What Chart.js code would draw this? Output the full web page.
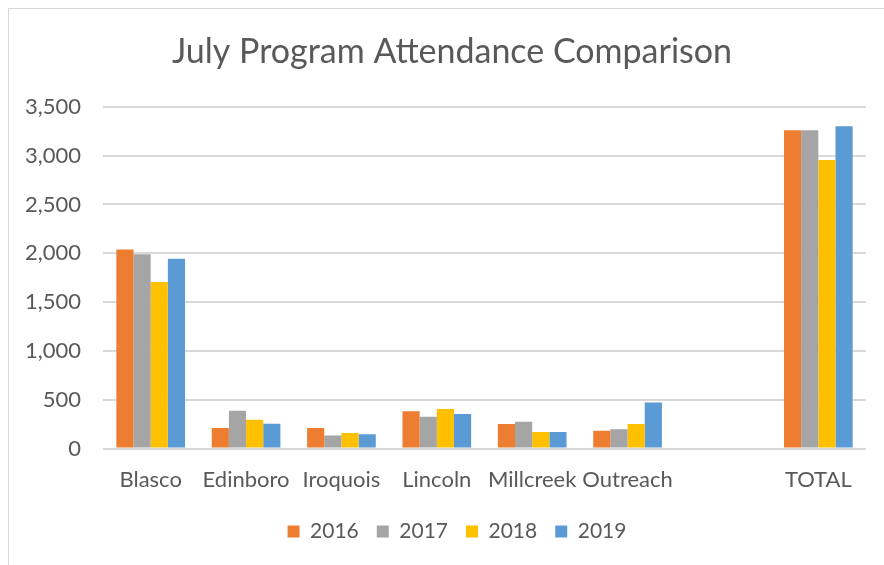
<!DOCTYPE html>
<html>
<head>
<meta charset="utf-8">
<script src="https://cdn.jsdelivr.net/npm/chart.js@4/dist/chart.umd.min.js"></script>
<style>
  html, body { margin: 0; padding: 0; background: #fff; }
  #wrap { position: relative; width: 884px; height: 565px; }
  #frame { position: absolute; left: 8px; top: 8px; right: -2px; bottom: -2px;
           border: 1px solid #d9d9d9; }
  canvas { position: absolute; left: 0; top: 0; }
</style>
</head>
<body>
<div id="wrap">
  <div id="frame"></div>
  <canvas id="attendanceChart" width="884" height="565"></canvas>
</div>
<script>
// categories (the blank one keeps the gap before TOTAL)
const sites = ['Blasco', 'Edinboro', 'Iroquois', 'Lincoln', 'Millcreek', 'Outreach', '', 'TOTAL'];

const y2016 = [2040, 210, 210, 382, 252, 184, null, 3260];
const y2017 = [1990, 388, 134, 327, 276, 197, null, 3260];
const y2018 = [1705, 296, 160, 405, 170, 252, null, 2955];
const y2019 = [1945, 254, 147, 354, 170, 473, null, 3300];

const yTicks = [0, 500, 1000, 1500, 2000, 2500, 3000, 3500];

const textColor = '#595959';
const font = 'Lato, "Noto Sans", sans-serif';

Chart.defaults.font.family = font;
Chart.defaults.color = textColor;

// the original centres title and legend a bit right of the plot, nudge them over
const nudgeBoxes = {
    id: 'nudgeBoxes',
    afterLayout(chart) {
        chart.titleBlock.left += 15;
        chart.titleBlock.right += 15;
        chart.legend.left += 20;
        chart.legend.right += 20;
    }
};

const ctx = document.getElementById('attendanceChart').getContext('2d');
new Chart(ctx, {
    type: 'bar',
    data: {
        labels: sites,
        datasets: [
            { label: '2016', data: y2016, backgroundColor: '#ED7D31' },
            { label: '2017', data: y2017, backgroundColor: '#A5A5A5' },
            { label: '2018', data: y2018, backgroundColor: '#FFC000' },
            { label: '2019', data: y2019, backgroundColor: '#5B9BD5' }
        ]
    },
    options: {
        responsive: false,
        animation: false,
        layout: { padding: { left: 8, right: 18, top: 18, bottom: 13 } },
        datasets: {
            bar: { barPercentage: 1, categoryPercentage: 0.72, borderWidth: 0 }
        },
        plugins: {
            title: {
                display: true,
                text: 'July Program Attendance Comparison',
                color: textColor,
                font: { size: 34, weight: 'normal' },
                padding: { top: 14, bottom: 34 }
            },
            legend: {
                position: 'bottom',
                labels: {
                    boxWidth: 12,
                    boxHeight: 12,
                    padding: 18,
                    color: textColor,
                    font: { size: 21 }
                }
            },
            tooltip: { enabled: false }
        },
        scales: {
            x: {
                grid: { display: false },
                border: { display: false },
                ticks: { color: textColor, font: { size: 22 }, padding: 10, maxRotation: 0, autoSkip: false }
            },
            y: {
                min: 0,
                max: 3500,
                afterBuildTicks: (scale) => { scale.ticks = yTicks.map(v => ({ value: v })); },
                grid: { color: '#d9d9d9', lineWidth: 2, drawTicks: false },
                border: { display: false },
                ticks: {
                    color: textColor,
                    font: { size: 22 },
                    padding: 22,
                    callback: (v) => v.toLocaleString('en-US')
                },
                afterFit: (scale) => { scale.width = 95; }
            }
        }
    },
    plugins: [nudgeBoxes]
});
</script>
</body>
</html>
